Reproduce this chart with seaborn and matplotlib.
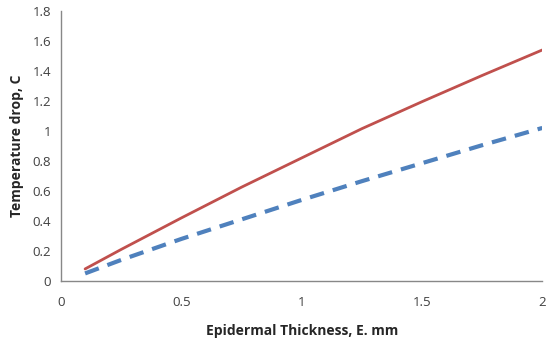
import numpy as np
import pandas as pd
import matplotlib
matplotlib.use("Agg")
import matplotlib.pyplot as plt
import seaborn as sns

# values
thickness = [0.1, 0.25, 0.5, 0.75, 1.0, 1.25, 1.5, 1.75, 2.0]
drop_red = [0.08, 0.21, 0.42, 0.625, 0.82, 1.015, 1.195, 1.37, 1.54]
drop_blue = [0.05, 0.14, 0.28, 0.41, 0.54, 0.665, 0.785, 0.905, 1.02]

x_ticks = [0, 0.5, 1, 1.5, 2]
x_labels = ["0", "0.5", "1", "1.5", "2"]
y_ticks = [0, 0.2, 0.4, 0.6, 0.8, 1, 1.2, 1.4, 1.6, 1.8]
y_labels = ["0", "0.2", "0.4", "0.6", "0.8", "1", "1.2", "1.4", "1.6", "1.8"]

sns.set_style("white")
plt.rcParams['font.family'] = ['Open Sans', 'DejaVu Sans']

df = pd.DataFrame({"E": thickness, "red": drop_red, "blue": drop_blue})

fig, ax = plt.subplots(figsize=(5.5, 3.43), dpi=100)
fig.subplots_adjust(left=0.111, right=0.986, top=0.968, bottom=0.181)

sns.lineplot(data=df, x="E", y="red", ax=ax, color="#C0504D", linewidth=2)
sns.lineplot(data=df, x="E", y="blue", ax=ax, color="#4F81BD", linewidth=3,
             linestyle=(0, (3.5, 2.2)))

ax.set_xlim(0, 2)
ax.set_ylim(0, 1.8)
ax.set_xticks(x_ticks)
ax.set_xticklabels(x_labels)
ax.set_yticks(y_ticks)
ax.set_yticklabels(y_labels)

for side in ["top", "right"]:
    ax.spines[side].set_visible(False)
for side in ["left", "bottom"]:
    ax.spines[side].set_color("#888888")
    ax.spines[side].set_linewidth(1)

ax.tick_params(axis="both", direction="inout", length=8, width=1,
               color="#888888", labelsize=9.5, labelcolor="#404040")
ax.tick_params(axis="x", pad=7)
ax.tick_params(axis="y", pad=3)

ax.set_xlabel("Epidermal Thickness, E. mm", fontsize=10, fontweight="bold",
              labelpad=11)
ax.set_ylabel("Temperature drop, C", fontsize=10, fontweight="bold",
              labelpad=6)

plt.savefig("out.png", dpi=100)
